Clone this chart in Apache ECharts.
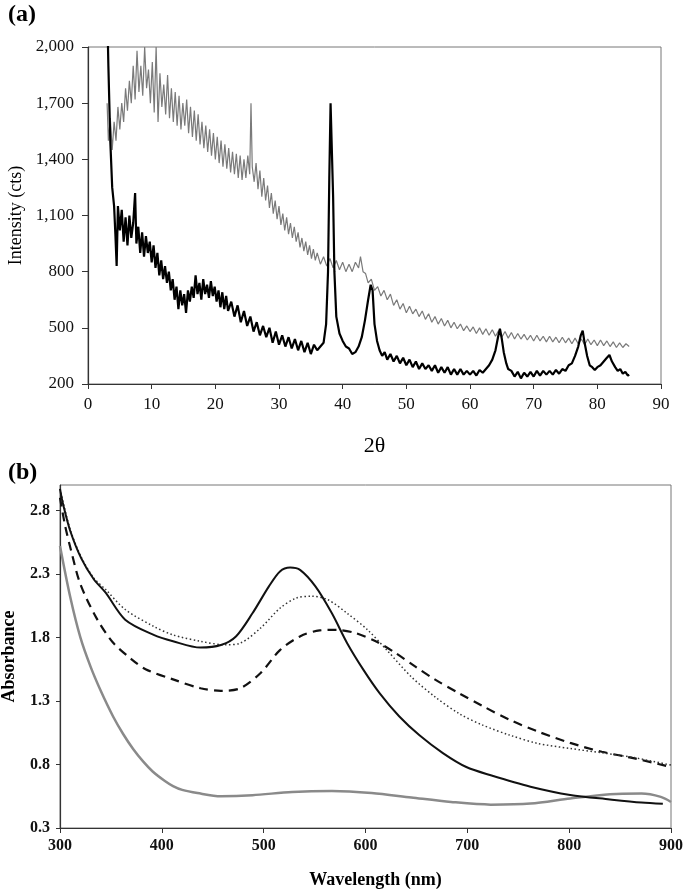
<!DOCTYPE html>
<html>
<head>
<meta charset="utf-8">
<script src="https://cdn.jsdelivr.net/npm/echarts@6/dist/echarts.min.js"></script>
<style>
  html, body { margin: 0; padding: 0; background: #fff; }
  #chart { width: 685px; height: 889px; }
</style>
</head>
<body>
<div id="chart"></div>
<script>
// (a) XRD: 2θ vs intensity, sample (black) and reference (grey)
const xrdSample = [
  [2.9, 2400], [3.2, 1900], [3.5, 1500], [3.8, 1250], [4.1, 1150], [4.3, 1000], [4.5, 830], [4.7, 1150],
  [5.0, 1020], [5.3, 1130], [5.6, 960], [5.9, 1090], [6.2, 940], [6.5, 1100], [6.8, 980], [7.1, 1060],
  [7.4, 1220], [7.6, 950], [7.9, 1040], [8.2, 900], [8.5, 1010], [8.8, 880], [9.1, 990], [9.4, 900],
  [9.7, 960], [10.0, 850], [10.3, 940], [10.6, 820], [10.9, 900], [11.2, 780], [11.5, 860], [11.8, 760],
  [12.1, 830], [12.4, 740], [12.7, 800], [13.0, 700], [13.3, 760], [13.6, 650], [13.9, 720], [14.2, 600],
  [14.5, 700], [14.8, 620], [15.1, 680], [15.4, 580], [15.7, 700], [16.0, 640], [16.3, 720], [16.6, 660],
  [16.9, 780], [17.2, 680], [17.5, 740], [17.8, 650], [18.1, 760], [18.4, 680], [18.7, 730], [19.0, 660],
  [19.3, 750], [19.6, 670], [19.9, 720], [20.2, 640], [20.5, 700], [20.8, 610], [21.1, 690], [21.4, 600],
  [21.7, 670], [22.0, 590], [22.5, 640], [23.0, 560], [23.5, 620], [24.0, 530], [24.5, 590], [25.0, 510],
  [25.5, 560], [26.0, 480], [26.5, 530], [27.0, 460], [27.5, 510], [28.0, 450], [28.5, 500], [29.0, 420],
  [29.5, 480], [30.0, 410], [30.5, 460], [31.0, 400], [31.5, 450], [32.0, 390], [32.5, 440], [33.0, 380],
  [33.5, 430], [34.0, 370], [34.5, 420], [35.0, 360], [35.5, 410], [36.0, 380], [36.5, 400], [37.0, 420],
  [37.4, 520], [37.7, 800], [37.9, 1300], [38.1, 1700], [38.3, 1690], [38.5, 1200], [38.7, 800], [39.0, 560],
  [39.5, 470], [40.0, 430], [40.5, 400], [41.0, 390], [41.5, 360], [42.0, 370], [42.5, 400], [43.0, 450],
  [43.5, 540], [44.0, 650], [44.4, 730], [44.7, 700], [45.0, 520], [45.4, 430], [45.8, 380], [46.2, 350],
  [46.6, 370], [47.0, 330], [47.5, 360], [48.0, 320], [48.5, 350], [49.0, 310], [49.5, 340], [50.0, 300],
  [50.5, 330], [51.0, 290], [51.5, 320], [52.0, 280], [52.5, 310], [53.0, 280], [53.5, 300], [54.0, 270],
  [54.5, 300], [55.0, 260], [55.5, 290], [56.0, 260], [56.5, 290], [57.0, 250], [57.5, 280], [58.0, 250],
  [58.5, 280], [59.0, 250], [59.5, 270], [60.0, 250], [60.5, 270], [61.0, 245], [61.5, 275], [62.0, 260],
  [62.5, 280], [63.0, 300], [63.5, 330], [64.0, 380], [64.4, 450], [64.7, 495], [65.0, 440], [65.3, 370],
  [65.7, 310], [66.0, 280], [66.5, 270], [67.0, 240], [67.5, 265], [68.0, 230], [68.5, 260], [69.0, 240],
  [69.5, 265], [70.0, 240], [70.5, 270], [71.0, 245], [71.5, 270], [72.0, 250], [72.5, 270], [73.0, 250],
  [73.5, 275], [74.0, 255], [74.5, 280], [75.0, 270], [75.5, 300], [76.0, 310], [76.5, 350], [77.0, 400],
  [77.4, 460], [77.7, 485], [78.0, 420], [78.4, 350], [78.8, 300], [79.2, 290], [79.6, 275], [80.0, 290],
  [80.5, 300], [81.0, 320], [81.5, 340], [81.9, 355], [82.3, 320], [82.8, 290], [83.2, 270], [83.6, 280],
  [84.0, 255], [84.4, 265], [84.8, 245], [85.0, 250]
];

const xrdReference = [
  [3.0, 1700], [3.2, 1500], [3.5, 1620], [3.8, 1450], [4.1, 1600], [4.4, 1500], [4.7, 1680], [5.0, 1560],
  [5.3, 1700], [5.6, 1600], [5.9, 1780], [6.2, 1660], [6.5, 1820], [6.8, 1700], [7.1, 1900], [7.4, 1720],
  [7.7, 1980], [8.0, 1760], [8.3, 1900], [8.6, 1740], [8.9, 2000], [9.2, 1780], [9.5, 1880], [9.8, 1700],
  [10.1, 1920], [10.4, 1650], [10.7, 2000], [11.0, 1600], [11.3, 1860], [11.6, 1680], [11.9, 1800], [12.2, 1640],
  [12.5, 1850], [12.8, 1620], [13.1, 1780], [13.4, 1600], [13.7, 1760], [14.0, 1580], [14.3, 1740], [14.6, 1560],
  [14.9, 1700], [15.2, 1580], [15.5, 1720], [15.8, 1540], [16.1, 1680], [16.4, 1520], [16.7, 1660], [17.0, 1500],
  [17.3, 1640], [17.6, 1480], [17.9, 1600], [18.2, 1460], [18.5, 1580], [18.8, 1440], [19.1, 1560], [19.4, 1420],
  [19.7, 1540], [20.0, 1400], [20.3, 1520], [20.6, 1380], [20.9, 1500], [21.2, 1360], [21.5, 1480], [21.8, 1350],
  [22.1, 1460], [22.4, 1330], [22.7, 1440], [23.0, 1320], [23.3, 1430], [23.6, 1300], [23.9, 1420], [24.2, 1290],
  [24.5, 1400], [24.8, 1300], [25.1, 1420], [25.4, 1320], [25.6, 1700], [25.8, 1360], [26.1, 1280], [26.4, 1380],
  [26.7, 1240], [27.0, 1340], [27.3, 1200], [27.6, 1300], [27.9, 1180], [28.2, 1260], [28.5, 1140], [28.8, 1220],
  [29.1, 1110], [29.4, 1180], [29.7, 1080], [30.0, 1150], [30.3, 1050], [30.6, 1110], [30.9, 1020], [31.2, 1090],
  [31.5, 1000], [31.8, 1060], [32.1, 980], [32.4, 1040], [32.7, 960], [33.0, 1010], [33.3, 930], [33.6, 980],
  [33.9, 910], [34.2, 960], [34.5, 890], [34.8, 940], [35.1, 870], [35.4, 920], [35.7, 860], [36.0, 900],
  [36.5, 840], [37.0, 880], [37.5, 830], [38.0, 870], [38.5, 820], [39.0, 860], [39.5, 810], [40.0, 850],
  [40.5, 800], [41.0, 840], [41.5, 800], [42.0, 850], [42.5, 820], [42.8, 880], [43.2, 800], [43.6, 790],
  [44.0, 740], [44.5, 760], [45.0, 700], [45.5, 720], [46.0, 670], [46.5, 700], [47.0, 650], [47.5, 680],
  [48.0, 620], [48.5, 650], [49.0, 600], [49.5, 630], [50.0, 580], [50.5, 615], [51.0, 575], [51.5, 600],
  [52.0, 560], [52.5, 590], [53.0, 545], [53.5, 575], [54.0, 530], [54.5, 560], [55.0, 520], [55.5, 550],
  [56.0, 510], [56.5, 540], [57.0, 500], [57.5, 530], [58.0, 495], [58.5, 520], [59.0, 485], [59.5, 510],
  [60.0, 480], [60.5, 505], [61.0, 470], [61.5, 500], [62.0, 465], [62.5, 495], [63.0, 460], [63.5, 490],
  [64.0, 455], [64.5, 485], [65.0, 450], [65.5, 480], [66.0, 445], [66.5, 475], [67.0, 440], [67.5, 470],
  [68.0, 440], [68.5, 465], [69.0, 435], [69.5, 460], [70.0, 430], [70.5, 460], [71.0, 430], [71.5, 455],
  [72.0, 425], [72.5, 455], [73.0, 425], [73.5, 450], [74.0, 420], [74.5, 450], [75.0, 420], [75.5, 445],
  [76.0, 415], [76.5, 445], [77.0, 415], [77.5, 440], [78.0, 410], [78.5, 440], [79.0, 410], [79.5, 435],
  [80.0, 405], [80.5, 435], [81.0, 405], [81.5, 430], [82.0, 400], [82.5, 425], [83.0, 395], [83.5, 420],
  [84.0, 395], [84.5, 415], [85.0, 400]
];

const xrdTicks = [200, 500, 800, 1100, 1400, 1700, 2000];

// (b) UV-vis: wavelength (nm) vs absorbance
const uvSolid = [
  [300, 2.97], [303, 2.85], [310, 2.64], [321, 2.42], [333, 2.26], [345, 2.15], [364, 1.94], [392, 1.82],
  [411, 1.77], [438, 1.72], [458, 1.74], [473, 1.81], [489, 1.99], [505, 2.20], [516, 2.32], [526, 2.35],
  [536, 2.33], [551, 2.20], [567, 1.99], [582, 1.755], [598, 1.545], [614, 1.36], [633, 1.18], [653, 1.03],
  [676, 0.89], [699, 0.78], [723, 0.715], [762, 0.625], [801, 0.56], [840, 0.525], [871, 0.50], [892, 0.49]
];
const uvDotted = [
  [300, 2.97], [310, 2.65], [321, 2.43], [333, 2.27], [345, 2.176], [364, 2.02], [392, 1.887], [411, 1.82],
  [438, 1.77], [462, 1.742], [477, 1.755], [497, 1.874], [516, 2.03], [532, 2.11], [547, 2.124], [563, 2.097],
  [582, 1.99], [602, 1.86], [621, 1.70], [645, 1.49], [668, 1.334], [692, 1.20], [715, 1.11], [742, 1.03],
  [769, 0.966], [801, 0.926], [832, 0.892], [863, 0.855], [900, 0.795]
];
const uvDashed = [
  [300, 2.9], [305, 2.68], [311, 2.48], [320, 2.22], [336, 1.95], [352, 1.76], [370, 1.63], [384, 1.55],
  [411, 1.47], [438, 1.40], [458, 1.38], [477, 1.40], [497, 1.52], [516, 1.70], [536, 1.81], [555, 1.855],
  [571, 1.86], [590, 1.835], [610, 1.77], [629, 1.68], [649, 1.57], [668, 1.47], [692, 1.36], [715, 1.26],
  [742, 1.15], [769, 1.06], [801, 0.97], [832, 0.90], [863, 0.85], [900, 0.78]
];
const uvGrey = [
  [300, 2.52], [310, 2.12], [320, 1.80], [330, 1.57], [340, 1.38], [352, 1.18], [362, 1.04], [372, 0.92],
  [382, 0.82], [391, 0.745], [403, 0.67], [411, 0.63], [420, 0.60], [435, 0.575], [458, 0.55], [489, 0.558],
  [528, 0.584], [567, 0.592], [606, 0.576], [645, 0.54], [684, 0.505], [723, 0.484], [762, 0.492], [801, 0.532],
  [840, 0.566], [871, 0.571], [890, 0.545], [900, 0.505]
];

const uvTicks = [0.3, 0.8, 1.3, 1.8, 2.3, 2.8];

const serif = 'Liberation Serif';

const option = {
  animation: false,
  backgroundColor: '#fff',
  graphic: [
    { type: 'text', left: 8, top: 3, style: { text: '(a)', font: 'bold 24px "Liberation Serif"', fill: '#000' } },
    { type: 'text', left: 8, top: 461, style: { text: '(b)', font: 'bold 24px "Liberation Serif"', fill: '#000' } }
  ],
  grid: [
    { left: 88, top: 47, right: 24, bottom: 505, outerBoundsMode: 'none', show: true, borderColor: '#777', borderWidth: 1 },
    { left: 60, top: 485, right: 14, bottom: 61, outerBoundsMode: 'none', show: true, borderColor: '#777', borderWidth: 1 }
  ],
  xAxis: [
    {
      gridIndex: 0, type: 'value', min: 0, max: 90, interval: 10,
      name: '2θ', nameLocation: 'middle', nameGap: 51,
      nameTextStyle: { fontFamily: serif, fontSize: 22, color: '#000' },
      axisLine: { lineStyle: { color: '#333', width: 1.2 } },
      axisTick: { length: 5, lineStyle: { color: '#333' } },
      axisLabel: { fontFamily: serif, fontSize: 17, color: '#111', margin: 12 },
      splitLine: { show: false }
    },
    {
      gridIndex: 1, type: 'value', min: 300, max: 900, interval: 100,
      name: 'Wavelength (nm)', nameLocation: 'middle', nameGap: 43,
      nameTextStyle: { fontFamily: serif, fontSize: 18, fontWeight: 'bold', color: '#000', padding: [0, 0, 0, 20] },
      axisLine: { lineStyle: { color: '#333', width: 1.2 } },
      axisTick: { length: 5, lineStyle: { color: '#333' } },
      axisLabel: { fontFamily: serif, fontSize: 16, fontWeight: 'bold', color: '#111', margin: 10 },
      splitLine: { show: false }
    }
  ],
  yAxis: [
    {
      gridIndex: 0, type: 'value', min: 200, max: 2000,
      name: 'Intensity (cts)', nameLocation: 'middle', nameGap: 62,
      nameTextStyle: { fontFamily: serif, fontSize: 18, color: '#000' },
      axisLine: { show: true, lineStyle: { color: '#333', width: 1.2 } },
      axisTick: { show: true, length: 6, customValues: xrdTicks, lineStyle: { color: '#333' } },
      axisLabel: {
        fontFamily: serif, fontSize: 17, color: '#111', margin: 14, customValues: xrdTicks,
        formatter: v => v.toLocaleString('en-US')
      },
      splitLine: { show: false }
    },
    {
      gridIndex: 1, type: 'value', min: 0.3, max: 3.0,
      name: 'Absorbance', nameLocation: 'middle', nameGap: 42,
      nameTextStyle: { fontFamily: serif, fontSize: 18, fontWeight: 'bold', color: '#000' },
      axisLine: { show: true, lineStyle: { color: '#333', width: 1.2 } },
      axisTick: { show: true, length: 4, customValues: uvTicks, lineStyle: { color: '#333' } },
      axisLabel: {
        fontFamily: serif, fontSize: 16, fontWeight: 'bold', color: '#111', margin: 10, customValues: uvTicks,
        formatter: v => v.toFixed(1)
      },
      splitLine: { show: false }
    }
  ],
  series: [
    {
      type: 'line', xAxisIndex: 0, yAxisIndex: 0, data: xrdReference, showSymbol: false,
      lineStyle: { color: '#7a7a7a', width: 1.2 }, clip: true, z: 2
    },
    {
      type: 'line', xAxisIndex: 0, yAxisIndex: 0, data: xrdSample, showSymbol: false,
      lineStyle: { color: '#000', width: 2.2 }, clip: true, z: 3
    },
    {
      type: 'line', xAxisIndex: 1, yAxisIndex: 1, data: uvGrey, showSymbol: false, smooth: 0.3,
      lineStyle: { color: '#8a8a8a', width: 2.5 }, clip: true
    },
    {
      type: 'line', xAxisIndex: 1, yAxisIndex: 1, data: uvDashed, showSymbol: false, smooth: 0.3,
      lineStyle: { color: '#111', width: 2.2, type: [9, 6] }, clip: true
    },
    {
      type: 'line', xAxisIndex: 1, yAxisIndex: 1, data: uvDotted, showSymbol: false, smooth: 0.3,
      lineStyle: { color: '#333', width: 1.5, type: [1.5, 2.5] }, clip: true
    },
    {
      type: 'line', xAxisIndex: 1, yAxisIndex: 1, data: uvSolid, showSymbol: false, smooth: 0.3,
      lineStyle: { color: '#111', width: 2 }, clip: true
    }
  ]
};

const myChart = echarts.init(document.getElementById('chart'), null, { renderer: 'canvas' });
myChart.setOption(option);
</script>
</body>
</html>
